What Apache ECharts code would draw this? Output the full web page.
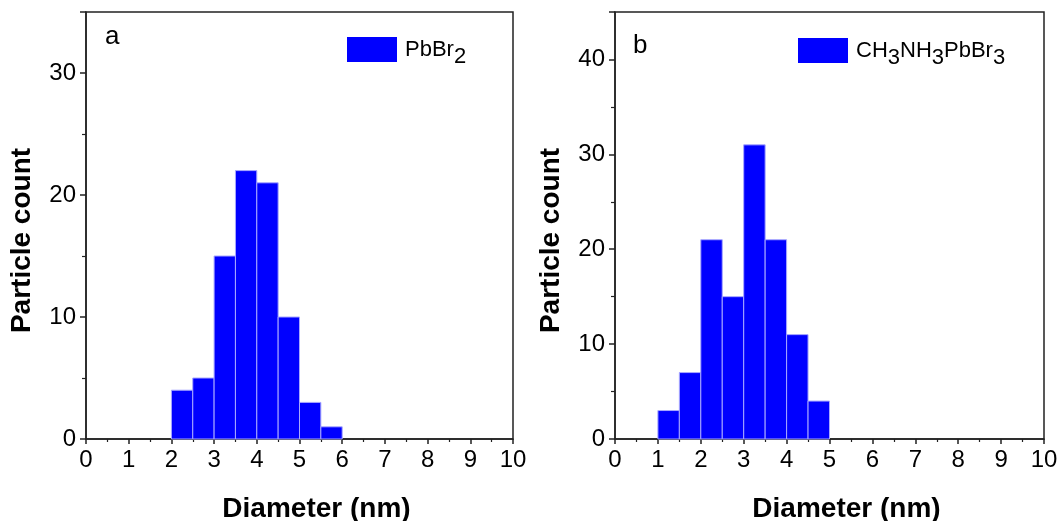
<!DOCTYPE html>
<html><head><meta charset="utf-8">
<script src="https://cdn.jsdelivr.net/npm/echarts@6/dist/echarts.min.js"></script>
<style>html,body{margin:0;padding:0;background:#fff}#c{width:1060px;height:521px}</style>
</head><body><div id="c"></div>
<script>
// bin edges (nm) and counts
var binStartA = [2.0, 2.5, 3.0, 3.5, 4.0, 4.5, 5.0, 5.5];
var countsA   = [4, 5, 15, 22, 21, 10, 3, 1];
var binStartB = [1.0, 1.5, 2.0, 2.5, 3.0, 3.5, 4.0, 4.5];
var countsB   = [3, 7, 21, 15, 31, 21, 11, 4];
var binWidth = 0.5;
var xTicks = [0,1,2,3,4,5,6,7,8,9,10];
var panelLabels = ['a', 'b'];
var seriesNames = ['PbBr2', 'CH3NH3PbBr3'];

function toData(starts, counts){
  return starts.map(function(s,i){ return [s, s+binWidth, counts[i]]; });
}
function renderBar(params, api){
  var p0 = api.coord([api.value(0), 0]);
  var p1 = api.coord([api.value(1), api.value(2)]);
  return {type:'rect', shape:{x:p0[0], y:p1[1], width:p1[0]-p0[0], height:p0[1]-p1[1]},
    style:{fill:'#0000ff', stroke:'#a8a8ff', lineWidth:1}};
}
var axisColor = '#222';
var font = '"Liberation Sans", Arial, sans-serif';
function xAxis(gi){
  return {type:'value', gridIndex:gi, min:0, max:10, interval:1,
    name:'Diameter (nm)', nameLocation:'middle', nameGap:56,
    nameTextStyle:{fontFamily:font, fontWeight:'bold', fontSize:28, color:'#000', padding:[0,0,0,34]},
    axisLine:{show:true, onZero:false, lineStyle:{color:axisColor, width:1.5}},
    axisTick:{show:true, inside:false, length:5, lineStyle:{color:axisColor, width:1.5}},
    minorTick:{show:true, splitNumber:2, length:3, lineStyle:{color:axisColor, width:1.2}},
    axisLabel:{fontFamily:font, fontSize:24, color:'#000', margin:9,
      formatter:function(v){ return xTicks.indexOf(v)>=0 ? String(v) : ''; }},
    splitLine:{show:false}};
}
function yAxis(gi, max){
  return {type:'value', gridIndex:gi, min:0, max:max, interval:10,
    name:'Particle count', nameLocation:'middle', nameGap:50,
    nameTextStyle:{fontFamily:font, fontWeight:'bold', fontSize:28, color:'#000', padding:[0,30,0,0]},
    axisLine:{show:true, onZero:false, lineStyle:{color:axisColor, width:1.5}},
    axisTick:{show:true, inside:false, length:6, lineStyle:{color:axisColor, width:1.5}},
    minorTick:{show:true, splitNumber:2, length:4, lineStyle:{color:axisColor, width:1.2}},
    axisLabel:{fontFamily:font, fontSize:24, color:'#000', margin:10, showMaxLabel:false},
    splitLine:{show:false}};
}
var rich = {n:{fontFamily:font, fontSize:22, color:'#000', verticalAlign:'top', padding:[7,0,7,0]},
            s:{fontFamily:font, fontSize:22, color:'#000', verticalAlign:'top', padding:[14,0,0,0]}};
function fmt(name){
  return name.replace(/([A-Za-z]+)(\d*)/g, function(m,a,d){ return '{n|'+a+'}' + (d ? '{s|'+d+'}' : ''); });
}
var chart = echarts.init(document.getElementById('c'));
chart.setOption({
  animation:false,
  grid:[
    {left:86, right:547, top:12, bottom:82, show:true, borderColor:axisColor, borderWidth:1.5, backgroundColor:'transparent', containLabel:false, outerBoundsMode:'none'},
    {left:615, right:16, top:12, bottom:82, show:true, borderColor:axisColor, borderWidth:1.5, backgroundColor:'transparent', containLabel:false, outerBoundsMode:'none'}
  ],
  xAxis:[xAxis(0), xAxis(1)],
  yAxis:[yAxis(0,35), yAxis(1,45)],
  legend:[
    {data:[seriesNames[0]], left:347, top:37, padding:0, itemWidth:50, itemHeight:25, itemGap:0, icon:'rect',
     formatter:fmt, textStyle:{rich:rich, padding:[0,0,0,3]}},
    {data:[seriesNames[1]], left:798, top:38, padding:0, itemWidth:50, itemHeight:25, itemGap:0, icon:'rect',
     formatter:fmt, textStyle:{rich:rich, padding:[0,0,0,3]}}
  ],
  graphic:[
    {type:'text', left:105, top:24, style:{text:panelLabels[0], font:'26px '+font, fill:'#000'}},
    {type:'text', left:633, top:33, style:{text:panelLabels[1], font:'26px '+font, fill:'#000'}}
  ],
  series:[
    {type:'custom', name:seriesNames[0], xAxisIndex:0, yAxisIndex:0, renderItem:renderBar,
     itemStyle:{color:'#0000ff'}, encode:{x:[0,1], y:2}, data:toData(binStartA, countsA)},
    {type:'custom', name:seriesNames[1], xAxisIndex:1, yAxisIndex:1, renderItem:renderBar,
     itemStyle:{color:'#0000ff'}, encode:{x:[0,1], y:2}, data:toData(binStartB, countsB)}
  ]
});
</script></body></html>
